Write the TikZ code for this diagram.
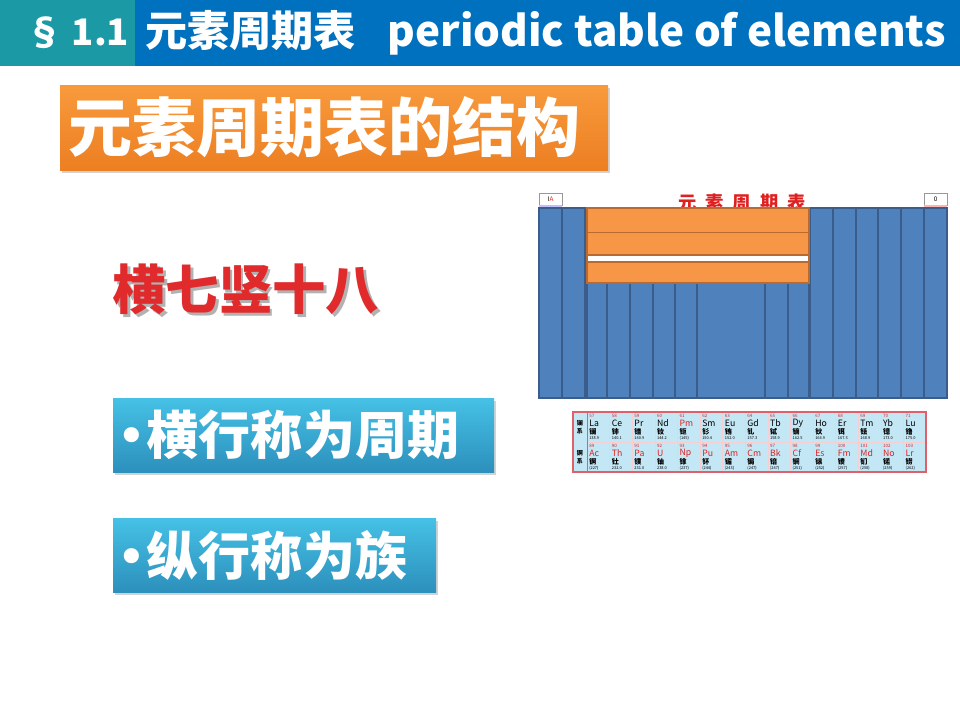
\documentclass[tikz,border=0pt]{standalone}
\usepackage{fontspec}
\setmainfont{Noto Sans CJK SC}
\newfontfamily\bulletfont{DejaVu Sans}
\usepackage{xcolor}
\usepackage{tikz}
\usetikzlibrary{shadows}

\definecolor{hdrteal}{HTML}{1B9AA6}
\definecolor{hdrblue}{HTML}{0071BF}
\definecolor{orangetop}{HTML}{F89A3C}
\definecolor{orangebot}{HTML}{EC7F22}
\definecolor{cyantop}{HTML}{46C1E5}
\definecolor{cyanbot}{HTML}{2C90BC}
\definecolor{sloganred}{HTML}{E02A2C}
\definecolor{ptblue}{HTML}{4F81BD}
\definecolor{ptedge}{HTML}{3A5D8C}
\definecolor{ptorange}{HTML}{F79646}
\definecolor{ptorangeedge}{HTML}{B96A2E}
\definecolor{lanfill}{HTML}{C4E7F5}
\definecolor{lanedge}{HTML}{E0606A}
\definecolor{elred}{HTML}{E02020}

\newcommand{\fsz}[1]{\fontsize{#1}{#1}\selectfont}
\newcommand{\bul}{{\bulletfont\mdseries •}}
% text with a soft shadow, in one box
\newcommand{\shadowed}[1]{\makebox[0pt][l]{\kern0.7mm\raisebox{-0.8mm}{\textcolor{black!30}{#1}}}#1}

\begin{document}
\begin{tikzpicture}[
    x=0.25mm, y=-0.25mm,
    hdrtext/.style={text=white, font=\bfseries\fsz{30pt}, inner sep=0pt},
    shadebox/.style={drop shadow={shadow xshift=0.4mm, shadow yshift=-0.7mm, opacity=0.35}},
    bigtext/.style={anchor=west, inner sep=0pt, text=white, font=\bfseries\fsz{#1}},
    ptcol/.style={fill=ptblue, draw=ptedge, line width=0.5mm},
    ptband/.style={fill=ptorange, draw=ptorangeedge, line width=0.45mm},
    lancell/.style={fill=lanfill, draw=white!70!lanedge, line width=0.15mm},
    elnum/.style={anchor=west, inner sep=0pt, text=elred, font=\fsz{3.2pt}},
    elsym/.style={anchor=west, inner sep=0pt, font=\fsz{6.2pt}},
    elname/.style={anchor=west, inner sep=0pt, font=\bfseries\fsz{5pt}},
    elmass/.style={anchor=west, inner sep=0pt, font=\fsz{2.8pt}}
]
\useasboundingbox[fill=white] (0,0) rectangle (960,720);

% Header bar
\fill[hdrteal] (0,0) rectangle (135,66);
\fill[hdrblue] (135,0) rectangle (960,66);
\node[hdrtext, font=\bfseries\fsz{26pt}] (sec) at (78,33) {§ 1.1};
\node[hdrtext, anchor=west] (hdrtitle) at (145,33) {元素周期表\hspace{0.75em}periodic table of elements};

% Title box
\path[shadebox, top color=orangetop, bottom color=orangebot] (60,85) rectangle (608,170);
\node[bigtext=45.5pt] (title) at (68,127) {元素周期表的结构};

% Slogan
\node[bigtext=38pt, text=sloganred] (slogan) at (112,291) {\shadowed{横七竖十八}};

% Bullet boxes
\path[shadebox, top color=cyantop, bottom color=cyanbot] (113,398) rectangle (494,472);
\node[bigtext=37pt] (rows) at (116,435) {\bul 横行称为周期};

\path[shadebox, top color=cyantop, bottom color=cyanbot] (113,518) rectangle (436,592);
\node[bigtext=37pt] (cols) at (116,555) {\bul 纵行称为族};

% Periodic table sketch
\node[font=\bfseries\fsz{13pt}, text=elred, inner sep=0pt] (pttitle) at (742,203)
    {元\hspace{0.5em}素\hspace{0.5em}周\hspace{0.5em}期\hspace{0.5em}表};
\draw[black!40, fill=white, line width=0.15mm] (539,193) rectangle (562,205);
\fill[blue!25] (539,205) rectangle (562,208);
\node[font=\fsz{4.5pt}, inner sep=0pt] (ia) at (550.5,199) {I\textcolor{elred}{A}};
\draw[black!40, fill=white, line width=0.15mm] (924,193) rectangle (947,205);
\fill[red!30] (924,205) rectangle (947,208);
\node[font=\fsz{4.5pt}, inner sep=0pt] (zero) at (935.5,199) {0};

\foreach \xa/\xb in {539/562, 562/585, 810/833, 833/856, 856/878, 878/901, 901/924, 924/947}
    \draw[ptcol] (\xa,208) rectangle (\xb,398);
\foreach \xa/\xb in {587/607, 607/630, 630/653, 653/675, 675/697, 697/765, 765/788, 788/809}
    \draw[ptcol] (\xa,283) rectangle (\xb,398);
\draw[ptband] (587,208) rectangle (809,232.5);
\draw[ptband] (587,232.5) rectangle (809,255);
\draw[ptorangeedge, fill=white, line width=0.45mm] (587,255) rectangle (809,262);
\draw[ptband] (587,262) rectangle (809,283);

% Lanthanides and actinides
\fill[lanfill] (573,412) rectangle (926,472);
\node[font=\bfseries\fsz{4.3pt}, align=center, inner sep=0pt] (lanlabel) at (580,427) {镧\\[1pt]系};
\node[font=\bfseries\fsz{4.3pt}, align=center, inner sep=0pt] (actlabel) at (580,457) {锕\\[1pt]系};
\foreach \sym/\name/\num/\mass/\col [count=\i from 0] in {
    La/镧/57/138.9/black, Ce/铈/58/140.1/black, Pr/镨/59/140.9/black, Nd/钕/60/144.2/black,
    Pm/钷/61/(145)/elred, Sm/钐/62/150.4/black, Eu/铕/63/152.0/black, Gd/钆/64/157.3/black,
    Tb/铽/65/158.9/black, Dy/镝/66/162.5/black, Ho/钬/67/164.9/black, Er/铒/68/167.3/black,
    Tm/铥/69/168.9/black, Yb/镱/70/173.0/black, Lu/镥/71/175.0/black} {
    \draw[lancell] ({587+\i*22.6},412) rectangle +(22.6,30);
    \node[elnum] (lnum\i) at ({589+\i*22.6},416) {\num};
    \node[elsym, text=\col] (lsym\i) at ({589+\i*22.6},423.5) {\sym};
    \node[elname] (lname\i) at ({589+\i*22.6},432) {\name};
    \node[elmass] (lmass\i) at ({589+\i*22.6},438.5) {\mass};
}
\foreach \sym/\name/\num/\mass [count=\i from 0] in {
    Ac/锕/89/(227), Th/钍/90/232.0, Pa/镤/91/231.0, U/铀/92/238.0, Np/镎/93/(237),
    Pu/钚/94/(244), Am/镅/95/(243), Cm/锔/96/(247), Bk/锫/97/(247), Cf/锎/98/(251),
    Es/锿/99/(252), Fm/镄/100/(257), Md/钔/101/(258), No/锘/102/(259), Lr/铹/103/(262)} {
    \draw[lancell] ({587+\i*22.6},442) rectangle +(22.6,30);
    \node[elnum] (anum\i) at ({589+\i*22.6},446) {\num};
    \node[elsym, text=elred] (asym\i) at ({589+\i*22.6},453.5) {\sym};
    \node[elname] (aname\i) at ({589+\i*22.6},462) {\name};
    \node[elmass] (amass\i) at ({589+\i*22.6},468.5) {\mass};
}
\draw[lanedge, line width=0.3mm] (573,412) rectangle (926,472);
\draw[lanedge, line width=0.15mm] (587,412) -- (587,472);

\end{tikzpicture}
\end{document}
